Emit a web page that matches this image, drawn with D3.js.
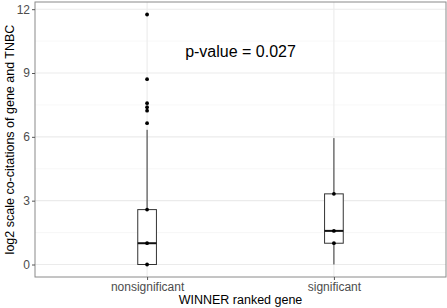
<!DOCTYPE html>
<html>
<head>
<meta charset="utf-8">
<script src="https://cdn.jsdelivr.net/npm/d3@7"></script>
<style>
  body { margin: 0; background: #fff; }
  text { font-family: "Liberation Sans", Arial, sans-serif; }
</style>
</head>
<body>
<svg id="chart" width="447" height="308"></svg>
<script>
// data
var groups = ["nonsignificant", "significant"];
// box stats: lower whisker, q1, median, q3, upper whisker
var lowerWhisker = [0, 0];
var q1 = [0, 1];
var median = [1, 1.58];
var q3 = [2.58, 3.32];
var upperWhisker = [6.33, 5.94];
var outliers = [[11.75, 8.71, 7.58, 7.39, 7.23, 6.64], []];
var pointsShown = [[0, 1, 2.58], [1, 1.58, 3.32]];
var yTicks = [0, 3, 6, 9, 12];
var yMinor = [1.5, 4.5, 7.5, 10.5];
var pLabel = "p-value = 0.027";

var svg = d3.select("#chart");
var pLeft = 35, pRight = 446, pTop = 2, pBottom = 277;

// ggplot style continuous expansion (5%)
var ymin = 0, ymax = 11.75, pad = (ymax - ymin) * 0.05;
var y = d3.scaleLinear().domain([ymin - pad, ymax + pad]).range([pBottom, pTop]);
// discrete: positions 1..2 with 0.6 expansion
var x = d3.scaleLinear().domain([0.4, 2.6]).range([pLeft, pRight]);
var boxHalf = 0.05;

var g = svg.append("g");

// grid
g.selectAll(".minor").data(yMinor).join("line")
  .attr("x1", pLeft).attr("x2", pRight)
  .attr("y1", d => y(d)).attr("y2", d => y(d))
  .attr("stroke", "#f2f2f2").attr("stroke-width", 0.6);
g.selectAll(".major").data(yTicks).join("line")
  .attr("x1", pLeft).attr("x2", pRight)
  .attr("y1", d => y(d)).attr("y2", d => y(d))
  .attr("stroke", "#ebebeb").attr("stroke-width", 1.1);
g.selectAll(".vmajor").data(groups).join("line")
  .attr("x1", (d, i) => x(i + 1)).attr("x2", (d, i) => x(i + 1))
  .attr("y1", pTop).attr("y2", pBottom)
  .attr("stroke", "#ebebeb").attr("stroke-width", 1.1);

// boxes
groups.forEach(function(name, i) {
  var cx = x(i + 1);
  var bg = g.append("g");
  // whiskers
  bg.append("line").attr("x1", cx).attr("x2", cx)
    .attr("y1", y(q3[i])).attr("y2", y(upperWhisker[i]))
    .attr("stroke", "#333").attr("stroke-width", 1);
  bg.append("line").attr("x1", cx).attr("x2", cx)
    .attr("y1", y(q1[i])).attr("y2", y(lowerWhisker[i]))
    .attr("stroke", "#333").attr("stroke-width", 1);
  bg.append("rect")
    .attr("x", x(i + 1 - boxHalf)).attr("width", x(i + 1 + boxHalf) - x(i + 1 - boxHalf))
    .attr("y", y(q3[i])).attr("height", y(q1[i]) - y(q3[i]))
    .attr("fill", "white").attr("stroke", "#333").attr("stroke-width", 1);
  bg.append("line")
    .attr("x1", x(i + 1 - boxHalf)).attr("x2", x(i + 1 + boxHalf))
    .attr("y1", y(median[i])).attr("y2", y(median[i]))
    .attr("stroke", "#111").attr("stroke-width", 2);
  bg.selectAll("circle").data(outliers[i].concat(pointsShown[i])).join("circle")
    .attr("cx", cx).attr("cy", d => y(d)).attr("r", 1.9)
    .attr("fill", "#000");
});

// panel border
svg.append("rect")
  .attr("x", pLeft).attr("y", pTop)
  .attr("width", pRight - pLeft).attr("height", pBottom - pTop)
  .attr("fill", "none").attr("stroke", "#8a8a8a").attr("stroke-width", 1);

// y axis
var yAxis = d3.axisLeft(y).tickValues(yTicks).tickSize(3).tickPadding(2);
var ya = svg.append("g").attr("transform", "translate(" + pLeft + ",0)").call(yAxis);
ya.select(".domain").remove();
ya.selectAll("line").attr("stroke", "#555");
ya.selectAll("text").attr("fill", "#4d4d4d").style("font-size", "12px")
  .style("font-family", "Liberation Sans, Arial, sans-serif");

// x axis
var xAxis = d3.axisBottom(x).tickValues([1, 2]).tickFormat((d, i) => groups[i]).tickSize(3).tickPadding(2);
var xa = svg.append("g").attr("transform", "translate(0," + pBottom + ")").call(xAxis);
xa.select(".domain").remove();
xa.selectAll("line").attr("stroke", "#555");
xa.selectAll("text").attr("fill", "#4d4d4d").style("font-size", "12px")
  .style("font-family", "Liberation Sans, Arial, sans-serif");

// titles
svg.append("text").attr("x", (pLeft + pRight) / 2).attr("y", 304)
  .attr("text-anchor", "middle").style("font-size", "12.5px").attr("fill", "#000")
  .text("WINNER ranked gene");
svg.append("text")
  .attr("transform", "translate(14," + ((pTop + pBottom) / 2) + ") rotate(-90)")
  .attr("text-anchor", "middle").style("font-size", "12.5px").attr("fill", "#000")
  .text("log2 scale co-citations of gene and TNBC");

// annotation
svg.append("text").attr("x", x(1.5)).attr("y", y(10)).attr("dy", "0.35em")
  .attr("text-anchor", "middle").style("font-size", "16px").attr("fill", "#000")
  .text(pLabel);
</script>
</body>
</html>
